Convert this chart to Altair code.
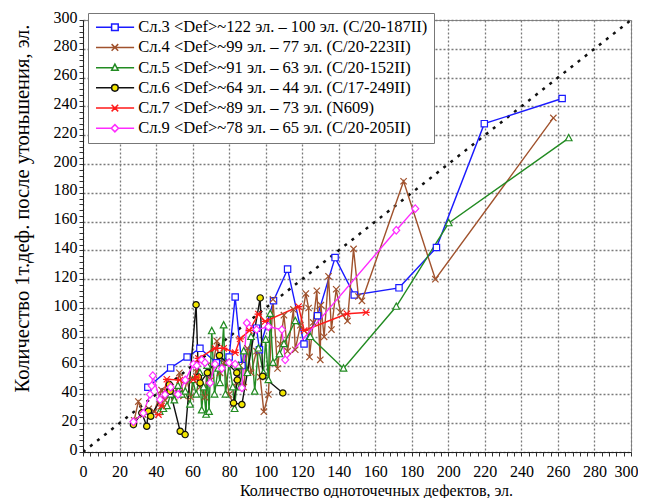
import altair as alt
import pandas as pd

series_names = [
    "Сл.3 <Def>~122 эл. – 100 эл. (С/20-187II)",
    "Сл.4 <Def>~99 эл. – 77 эл. (С/20-223II)",
    "Сл.5 <Def>~91 эл. – 63 эл. (С/20-152II)",
    "Сл.6 <Def>~64 эл. – 44 эл. (С/17-249II)",
    "Сл.7 <Def>~89 эл. – 73 эл. (N609)",
    "Сл.9 <Def>~78 эл. – 65 эл. (С/20-205II)",
]
series_colors = ["#1a1aff", "#a0522d", "#228b22", "#111111", "#ff1a1a", "#ff2bff"]
series_fills = ["white", "white", "white", "#f2e600", "white", "white"]

x3 = [35.5, 48, 57, 64, 73, 80, 83.3, 87, 95, 96.6, 104.3, 112, 121, 128.4, 138, 148.5, 173, 193.5, 219.7, 262.3]
y3 = [45, 58.4, 66, 72, 62, 66, 107.6, 60, 86, 71, 105, 127, 75, 94.6, 135, 109, 114, 142, 228, 245.5]

x4 = [28, 30.3, 33, 36, 39, 43, 45, 48, 50, 52.8, 55, 57, 59, 62, 64, 66.8, 68, 70, 73.3, 75, 77, 80, 82.4, 84, 86,
      88, 90, 92, 95, 97, 99, 101.5, 104, 106.5, 108, 110, 112, 115.2, 116.2, 119, 122, 123.5, 124, 126, 128,
      129.9, 130.2, 132, 134.4, 136, 138.6, 141, 144.8, 148.1, 150.8, 152.7, 175.5, 192.9, 257.5]
y4 = [22, 35, 26, 30, 28, 43, 36, 45, 38, 55, 39, 50, 38, 58, 45, 38, 60, 50, 77, 55, 62, 40, 33, 48, 60,
      45, 72, 55, 70, 52, 28, 40, 106, 58, 75, 95, 70, 99, 71, 88, 110, 100, 66, 90, 112,
      64, 102, 80, 122, 85, 113, 97, 91, 141, 108, 105, 188, 120, 232]

x5 = [42, 44, 46, 48, 50, 52, 54, 56, 58.6, 60, 62, 64, 65, 66, 67.4, 68, 69, 70.5, 72, 74, 75, 77, 78, 80, 82,
      83, 85, 86, 88, 90, 92, 94, 96, 98.8, 100, 101.5, 102.5, 104, 107.6, 110, 116.2, 124.4, 142.6, 171.5, 200.2, 265.9]
y5 = [28, 30, 32, 40, 36, 46, 40, 42, 33, 50, 40, 55, 29, 45, 26, 60, 28, 84, 40, 58, 48, 88, 40, 62, 45,
      30, 60, 45, 70, 55, 80, 42, 72, 55, 78, 50, 96, 62, 68, 75, 91, 80, 58, 101, 159, 218]

x6 = [27.6, 32.2, 34.9, 35.8, 37.1, 47.3, 47.7, 53.2, 55.9, 61.9, 63.2, 64.1, 68.1, 74.7, 84.2, 84.5, 82.4, 87, 97, 98.4, 109.4]
y6 = [19, 27.2, 17.9, 28.3, 24.8, 46.8, 42.2, 14.4, 12.1, 102.3, 52, 48, 55, 67, 55, 50, 34, 33, 107, 52.6, 41]

x7 = [41.3, 43, 45.9, 53, 60.4, 62.3, 63.2, 72.3, 77, 83.3, 86, 91.1, 96, 99.7, 118, 121.1, 144.5, 154.9]
y7 = [26, 32, 50.5, 50, 50.3, 52, 65, 72, 72, 69, 78.5, 84.4, 95.8, 90.7, 101, 84.4, 96, 96.9]

x9 = [27.6, 33, 36.7, 37.6, 38.2, 42.2, 44.9, 48, 52, 56, 60.4, 62.3, 65, 66.8, 69.6, 72.3, 76, 80, 83.3, 87,
      89.7, 95, 101.5, 108.9, 110.7, 171.5, 181.9]
y9 = [21, 27, 40, 46, 53, 36.4, 39.9, 45, 40, 50, 61, 60, 64, 62, 48, 61, 58, 62, 61, 44.5,
      89.6, 85, 87, 85, 64, 154, 169]

diag_x = [0, 300]
diag_y = [0, 300]

all_x = [x3, x4, x5, x6, x7, x9]
all_y = [y3, y4, y5, y6, y7, y9]

rows = []
for name, xs, ys in zip(series_names, all_x, all_y):
    for i, (xv, yv) in enumerate(zip(xs, ys)):
        rows.append({"series": name, "x": xv, "y": yv, "idx": i})
df = pd.DataFrame(rows)
diag = pd.DataFrame({"x": diag_x, "y": diag_y})
leg_df = pd.DataFrame({"series": series_names})

# marker shapes for the data points
marker_paths = [
    "M-1,-1H1V1H-1Z",
    "M-1,-1L1,1M-1,1L1,-1",
    "M0,-1.15L1.05,0.85H-1.05Z",
    "circle",
    "M-1,-1L1,1M-1,1L1,-1M-1.2,0H1.2",
    "M0,-1.2L1.1,0L0,1.2L-1.1,0Z",
]
# legend symbols: line with marker in the middle
legend_paths = [
    "M-1,0H4.2M6.4,0H11.7M4.2,-1.1H6.4V1.1H4.2Z",
    "M-1,0H11.7M4.2,-1.1L6.4,1.1M4.2,1.1L6.4,-1.1",
    "M-1,0H4.7M5.9,0H11.7M5.3,-1.2L6.4,0.9H4.2Z",
    "M-1,0H4.2M6.4,0H11.7M4.2,0A1.1,1.1,0,1,0,6.4,0A1.1,1.1,0,1,0,4.2,0Z",
    "M-1,0H11.7M4.2,-1.1L6.4,1.1M4.2,1.1L6.4,-1.1M4.2,0H6.4",
    "M-1,0H4.1M6.5,0H11.7M5.3,-1.2L6.5,0L5.3,1.2L4.1,0Z",
]

major = "datum.value % 20 === 0"
tick_vals = list(range(0, 301, 4))
font = "Liberation Serif"

x_axis = alt.Axis(
    values=tick_vals, labelExpr=f"{major} ? datum.label : ''", labelOverlap=False, labelFlush=False,
    labelOffset={"condition": {"test": "datum.value >= 300", "value": -5}, "value": 0},
    tickSize=4, tickColor="#333", domainColor="#222", labelFont=font, labelFontSize=16, labelColor="black",
    labelPadding=7, grid=True, gridDash=[2, 2], gridColor="#7a7a7a", gridWidth=1.3,
    gridOpacity={"condition": {"test": major, "value": 1}, "value": 0},
    title="Количество одноточечных дефектов, эл.", titleFont=font, titleFontSize=16,
    titleFontWeight="normal", titleColor="black", titleX=293, titleY=30,
)
y_axis = alt.Axis(
    values=tick_vals, labelExpr=f"{major} ? datum.label : ''", labelOverlap=False, labelFlush=False,
    tickSize=4, tickColor="#333", domainColor="#222", labelFont=font, labelFontSize=16, labelColor="black",
    labelPadding=2, labelOffset=-3, grid=True, gridDash=[2, 2], gridColor="#7a7a7a", gridWidth=1.3,
    gridOpacity={"condition": {"test": major, "value": 1}, "value": 0},
    title="Количество 1т.деф. после утоньшения, эл.", titleFont=font, titleFontSize=20.5,
    titleFontWeight="normal", titleColor="black", titleX=-51, titleY=188,
)

xs = alt.Scale(domain=[0, 300], nice=False, zero=False)
ys = alt.Scale(domain=[0, 300], nice=False, zero=False)
X = alt.X("x:Q", scale=xs, axis=x_axis)
Y = alt.Y("y:Q", scale=ys, axis=y_axis)

color_scale = alt.Scale(domain=series_names, range=series_colors)
fill_scale = alt.Scale(domain=series_names, range=series_fills)

leg = alt.Legend(
    title=None, orient="none", legendX=5, legendY=-7, padding=6, fillColor="white", strokeColor="#777",
    labelFont=font, labelFontSize=16.5, labelColor="black", labelLimit=0, labelOffset=31,
    symbolOffset=-3.25, symbolSize=36, symbolStrokeWidth=1.5, symbolOpacity=1, symbolFillColor="white",
    rowPadding=3.2, cornerRadius=0,
)

lines = alt.Chart(df).mark_line(strokeWidth=1.4, clip=True).encode(
    x=X, y=Y,
    color=alt.Color("series:N", scale=color_scale, legend=None),
    order=alt.Order("idx:Q"),
)

points = alt.Chart(df).mark_point(size=40, strokeWidth=1.2, opacity=1, clip=True).encode(
    x=X, y=Y,
    color=alt.Color("series:N", scale=color_scale, legend=None),
    fill=alt.Fill("series:N", scale=fill_scale, legend=None),
    shape=alt.Shape("series:N", scale=alt.Scale(domain=series_names, range=marker_paths), legend=None),
)

diag_line = alt.Chart(diag).mark_line(
    color="#111", strokeWidth=2.5, strokeDash=[3, 6], clip=True
).encode(x=X, y=Y)

legend_layer = alt.Chart(leg_df).mark_point(opacity=0).encode(
    color=alt.Color("series:N", scale=color_scale, legend=leg),
    fill=alt.Fill("series:N", scale=fill_scale, legend=leg),
    shape=alt.Shape("series:N", scale=alt.Scale(domain=series_names, range=legend_paths), legend=leg),
)

chart = alt.layer(diag_line, lines, points, legend_layer).resolve_scale(
    shape="independent", color="independent", fill="independent"
).properties(
    width=548, height=432,
    autosize=alt.AutoSizeParams(type="none"),
    padding={"left": 75, "top": 12, "right": 7, "bottom": 46},
    background="white",
).configure_view(stroke="#888", strokeWidth=1)

chart.save("out.html", embed_options={"renderer": "svg", "actions": False})
